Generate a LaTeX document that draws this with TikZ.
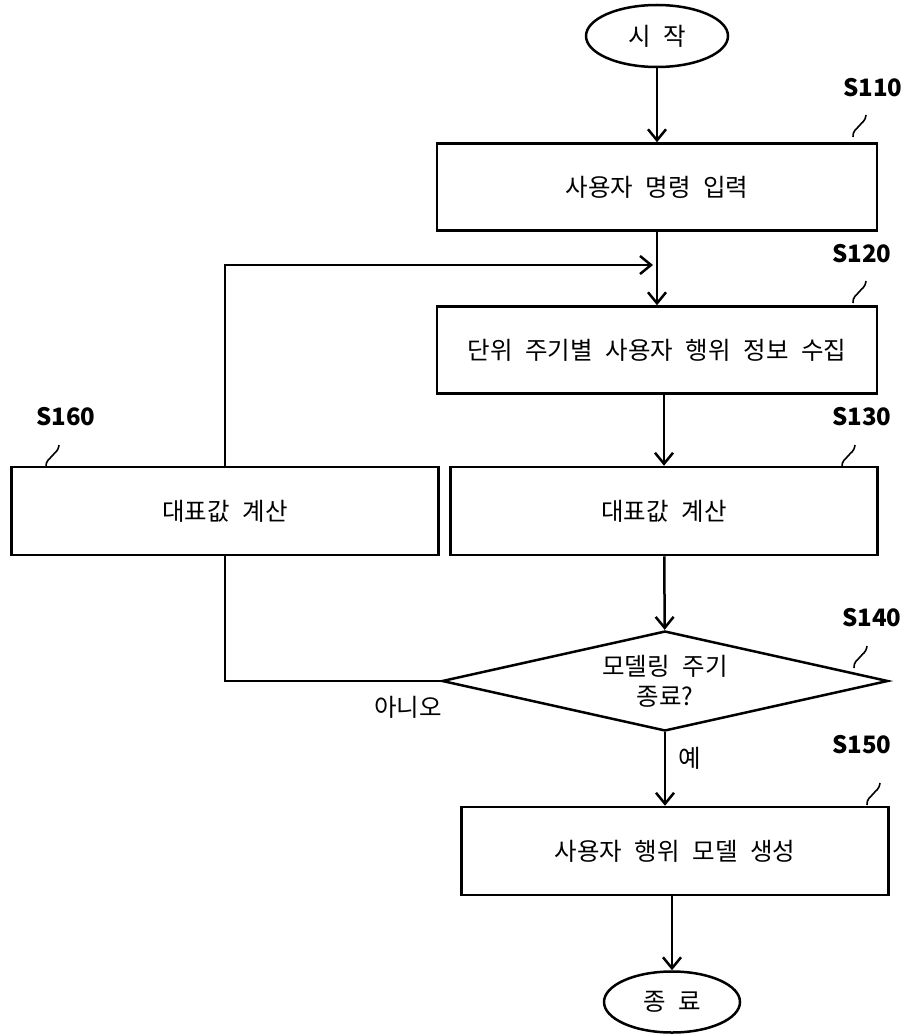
\documentclass[tikz,border=0pt]{standalone}
\usepackage{fontspec}
\setmainfont{Noto Sans CJK KR}[WordSpace=2.3]
\usetikzlibrary{shapes.geometric,arrows.meta}

\tikzset{
  box/.style={draw, line width=2.5pt, rectangle, inner sep=0pt, minimum height=87pt},
  term/.style={draw, line width=2.5pt, ellipse, inner sep=0pt},
  cond/.style={draw, line width=2.5pt, diamond, aspect=4.4, inner sep=0pt,
               minimum width=446pt, minimum height=100pt, align=center},
  lbl/.style={font=\fontsize{24}{30}\selectfont\bfseries},
  flow/.style={line width=2.5pt, -{Straight Barb[length=11pt,width=18pt,line width=2.5pt]}},
  squig/.style={line width=1.6pt}
}
\newcommand{\Sq}[2]{\draw[squig] (#1,#2) .. controls (#1,#2-7) and (#1+3,#2-7) .. (#1+6,#2-11)
    .. controls (#1+9,#2-15) and (#1+12,#2-15) .. (#1+13,#2-22);}

\begin{document}
\begin{tikzpicture}[x=1pt, y=-1pt, font=\fontsize{24.5}{30}\selectfont]
            \useasboundingbox (0,0) rectangle (907,1035);

            \node[term, minimum width=142pt, minimum height=62pt] (start) at (657,36) {시 작};
            \node[box, minimum width=440pt] (s110) at (657,187) {사용자 명령 입력};
            \node[box, minimum width=440pt] (s120) at (657,350) {단위 주기별 사용자 행위 정보 수집};
            \node[box, minimum width=427pt, minimum height=88pt] (s130) at (664,511) {대표값 계산};
            \node[box, minimum width=427pt, minimum height=88pt] (s160) at (225,511) {대표값 계산};
            \node[cond] (s140) at (665,681) {모델링 주기\\종료?};
            \node[box, minimum width=427pt, minimum height=88pt] (s150) at (675,851) {사용자 행위 모델 생성};
            \node[term, minimum width=136pt, minimum height=61pt] (end) at (672,1002) {종 료};

            \node[lbl] (l110) at (873,88) {S110};
            \node[lbl] (l120) at (862,254) {S120};
            \node[lbl] (l130) at (862,417) {S130};
            \node[lbl] (l160) at (66,417) {S160};
            \node[lbl] (l140) at (872,618) {S140};
            \node[lbl] (l150) at (862,745) {S150};

            \node (no) at (408,707) {아니오};
            \node (yes) at (690,758) {예};

            \coordinate (fb) at (653,265);

            \draw[flow] (start) -- (start |- s110.north);
            \draw[flow] (s110) -- (s110 |- s120.north);
            \draw[flow] (s120.south -| s130) -- (s130);
            \draw[flow] (s130) -- (s140);
            \draw[flow] (s140) -- (s140 |- s150.north);
            \draw[flow] (s150.south -| end) -- (end);

            \draw[flow] (s160) |- (fb);
            \draw[line width=2.5pt] (s140.west) -| (s160.south);

            \Sq{853}{137}
            \Sq{853}{303}
            \Sq{842}{467}
            \Sq{46}{467}
            \Sq{854}{668}
            \Sq{867}{805}

        \end{tikzpicture}
\end{document}
